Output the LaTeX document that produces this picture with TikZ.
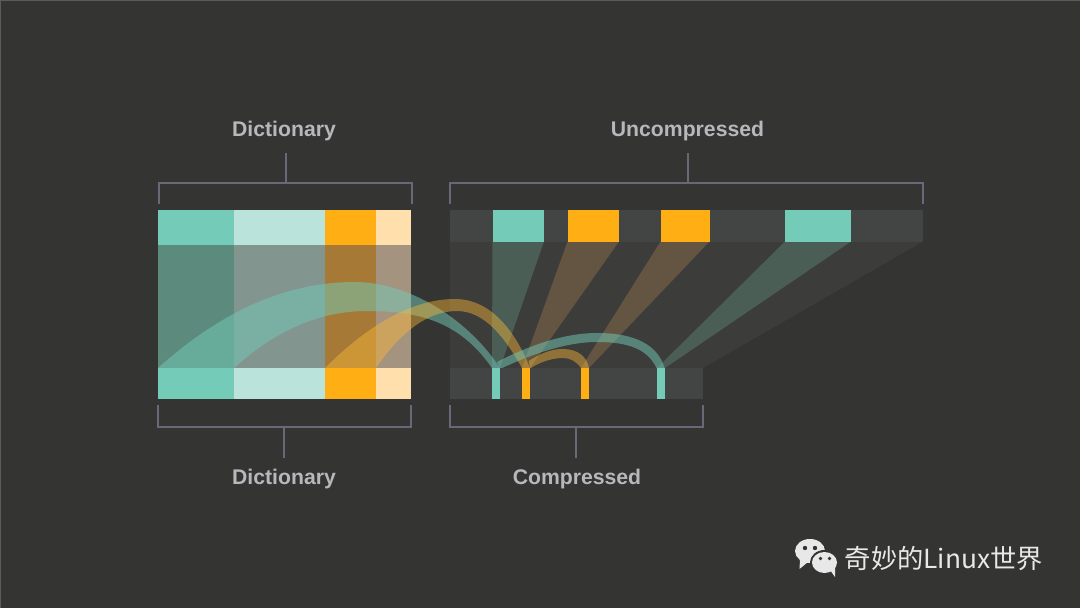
\documentclass[tikz,border=0pt]{standalone}
\usepackage{fontspec}
\setmainfont{Liberation Sans}
\newfontfamily\cjk{Noto Sans CJK SC}
\definecolor{bgc}{HTML}{343433}
\definecolor{edgec}{HTML}{5C5C5B}
\definecolor{teal1}{HTML}{73CBB8}
\definecolor{teal2}{HTML}{BAE4DB}
\definecolor{org1}{HTML}{FFAE14}
\definecolor{org2}{HTML}{FFDFAB}
\definecolor{fteal1}{HTML}{5C8B7E}
\definecolor{fteal2}{HTML}{82968F}
\definecolor{forg1}{HTML}{A67A36}
\definecolor{forg2}{HTML}{A4937F}
\definecolor{track}{HTML}{434544}
\definecolor{fan}{HTML}{3C3C3B}
\definecolor{wteal}{HTML}{4A5E56}
\definecolor{worg}{HTML}{635542}
\definecolor{brk}{HTML}{6A6878}
\definecolor{lab}{HTML}{B7B7BC}
\definecolor{wm}{HTML}{E8E8E8}
\tikzset{
  bracket/.style={draw=brk,line width=2pt},
  label/.style={font=\bfseries\fontsize{21.2}{24}\selectfont,text=lab,inner sep=0pt,anchor=center},
  tealarc/.style={fill=teal1,fill opacity=.5},
  orgarc/.style={fill=org1!85!white,fill opacity=.43},
}
\begin{document}
\begin{tikzpicture}[x=1pt,y=-1pt]
\useasboundingbox (0,0) rectangle (1080,608);
\fill[bgc] (0,0) rectangle (1080,608);
\draw[edgec,line width=1pt] (0.5,608) -- (0.5,0.5) -- (1080,0.5);
% left block
\fill[fteal1] (158,244.5) rectangle (234,368);
\fill[fteal2] (234,244.5) rectangle (325,368);
\fill[forg1] (325,244.5) rectangle (376,368);
\fill[forg2] (376,244.5) rectangle (411,368);
\fill[teal1] (158,210) rectangle (234,244.5);
\fill[teal2] (234,210) rectangle (325,244.5);
\fill[org1] (325,210) rectangle (376,244.5);
\fill[org2] (376,210) rectangle (411,244.5);
% right fans
\fill[fan] (450,241.5) -- (923,241.5) -- (703,368) -- (450,368) -- cycle;
\fill[wteal] (492.5,241.5) -- (544,241.5) -- (500,368) -- (492,368) -- cycle;
\fill[worg] (567.5,241.5) -- (619,241.5) -- (530,368) -- (522,368) -- cycle;
\fill[worg] (660.5,241.5) -- (709.5,241.5) -- (589,368) -- (581,368) -- cycle;
\fill[wteal] (785,241.5) -- (851,241.5) -- (665,368) -- (657,368) -- cycle;
\fill[track] (450,210) rectangle (923,241.5);
\fill[teal1] (492.5,210) rectangle (544,241.5);
\fill[org1] (567.5,210) rectangle (619,241.5);
\fill[org1] (660.5,210) rectangle (709.5,241.5);
\fill[teal1] (785,210) rectangle (851,241.5);
% arcs
\fill[tealarc] (158,368) .. controls (225,308) and (290,282) .. (355,282)
  .. controls (405,282) and (465,315) .. (500,368) -- (492,368)
  .. controls (460,322) and (420,311) .. (367,311)
  .. controls (315,311) and (270,335) .. (234,368) -- cycle;
\fill[orgarc] (325,368) .. controls (365,328) and (410,299) .. (455,299)
  .. controls (490,299) and (515,330) .. (530,368) -- (522,368)
  .. controls (505,338) and (485,311) .. (457,311)
  .. controls (427,311) and (400,333) .. (376,368) -- cycle;
\fill[tealarc] (497,362) .. controls (530,345) and (565,333) .. (597,333)
  .. controls (635,333) and (658,345) .. (664.5,368) -- (656.5,368)
  .. controls (648,350) and (630,342) .. (597,342)
  .. controls (565,342) and (530,355) .. (500,369) -- cycle;
\fill[orgarc] (528.7,361) .. controls (540,354) and (550,349) .. (563,349)
  .. controls (578,349) and (587,357) .. (589,368) -- (581,368)
  .. controls (576,361) and (570,358) .. (563,358)
  .. controls (552,358) and (540,362) .. (530,368.5) -- cycle;
% bottom bars
\fill[teal1] (158,368) rectangle (234,399);
\fill[teal2] (234,368) rectangle (325,399);
\fill[org1] (325,368) rectangle (376,399);
\fill[org2] (376,368) rectangle (411,399);
\fill[track] (450,368) rectangle (703,399);
\fill[teal1] (492.3,368) rectangle (500.3,399);
\fill[org1] (522,368) rectangle (530,399);
\fill[org1] (581,368) rectangle (589,399);
\fill[teal1] (656.5,368) rectangle (664.5,399);
% brackets
\draw[bracket] (158.5,204) -- (158.5,183) -- (411.5,183) -- (411.5,204);
\draw[bracket] (285.5,153) -- (285.5,183);
\draw[bracket] (450,204) -- (450,183) -- (923,183) -- (923,204);
\draw[bracket] (687.5,153) -- (687.5,183);
\draw[bracket] (158,405) -- (158,427) -- (411,427) -- (411,405);
\draw[bracket] (284,427) -- (284,458);
\draw[bracket] (450,405) -- (450,427) -- (703,427) -- (703,405);
\draw[bracket] (576,427) -- (576,458);
% labels
\node[label] (dict1) at (284,131.5) {Dictionary};
\node[label] (uncomp) at (687.5,131.5) {Uncompressed};
\node[label] (dict2) at (284,479) {Dictionary};
\node[label] (comp) at (577,479) {Compressed};
% watermark icon
\fill[wm] (810,551) ellipse [x radius=15,y radius=12];
\fill[wm] (800,560) -- (799.5,569) -- (808,562) -- cycle;
\fill[bgc] (824.5,562.5) ellipse [x radius=14.5,y radius=12.5];
\fill[wm] (824.5,562.5) ellipse [x radius=12.5,y radius=10.5];
\fill[wm] (830,570) -- (835,577) -- (835,567) -- cycle;
\fill[bgc] (805,548) circle (2.2) (815,548) circle (2.2) (820.5,558.5) circle (1.8) (829.5,558.5) circle (1.8);
\node[font=\cjk\fontsize{26.3}{30}\selectfont,text=wm,inner sep=0pt,anchor=west] (mark) at (844.5,559) {奇妙的Linux世界};
\end{tikzpicture}
\end{document}
